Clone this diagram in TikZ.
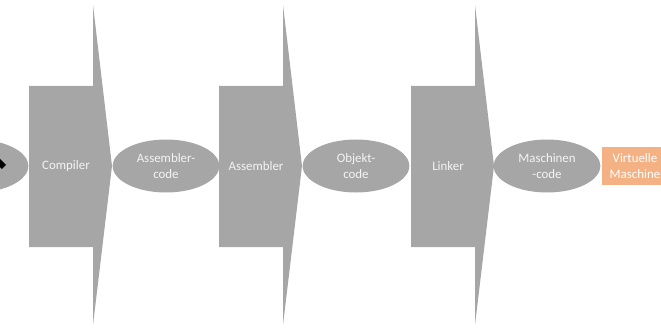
\documentclass[tikz,border=0pt]{standalone}
\usepackage{fontspec}
\setmainfont{Carlito}
\usetikzlibrary{shapes.geometric}

\definecolor{stagegray}{HTML}{A6A6A6}
\definecolor{vmorange}{HTML}{F4B183}
\definecolor{labelwhite}{HTML}{F4F4F4}

\tikzset{
  stage/.style={fill=stagegray},
  stagelabel/.style={text=labelwhite, font=\fontsize{11}{13.5}\selectfont},
  product/.style={ellipse, fill=stagegray, minimum width=3.2cm, minimum height=1.59cm,
    inner sep=0pt, align=center, text=labelwhite, font=\fontsize{11}{13.5}\selectfont},
  vmbox/.style={rectangle, fill=vmorange, minimum width=1.98cm, minimum height=1.11cm,
    inner sep=0pt, align=center, text=white, font=\fontsize{11}{13.5}\selectfont}
}

\begin{document}
\begin{tikzpicture}[x=0.03cm,y=0.03cm]
  \useasboundingbox (0,-167) rectangle (661,166);

  % source (only its right end is visible)
  \node[product] (source) at (-25,0) {};
  \draw[line width=5pt] (-3,6) -- (4,-1);

  % the three tools as notched arrows
  \fill[stage] (29,80) -- (93,80) -- (93,161) -- (112,0) -- (93,-159) -- (93,-81) -- (29,-81) -- cycle;
  \node[stagelabel] (compiler) at (66,0) {Compiler};

  \fill[stage] (219,80) -- (283,80) -- (283,161) -- (302,0) -- (283,-159) -- (283,-81) -- (219,-81) -- cycle;
  \node[stagelabel] (assembler) at (256,0) {Assembler};

  \fill[stage] (411,80) -- (475,80) -- (475,161) -- (494,0) -- (475,-159) -- (475,-81) -- (411,-81) -- cycle;
  \node[stagelabel] (linker) at (448,0) {Linker};

  % intermediate products
  \node[product] (asmcode) at (166,0) {Assembler-\\code};
  \node[product] (objcode) at (356,0) {Objekt-\\code};
  \node[product] (mcode) at (547,0) {Maschinen\\-code};

  \node[vmbox] (vm) at (635,0) {Virtuelle\\Maschine};
\end{tikzpicture}
\end{document}
